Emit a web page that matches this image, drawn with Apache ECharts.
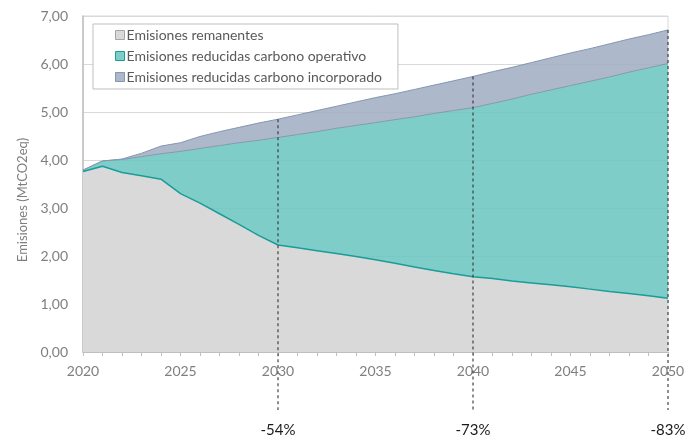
<!DOCTYPE html>
<html>
<head>
<meta charset="utf-8">
<script src="https://cdn.jsdelivr.net/npm/echarts@6/dist/echarts.min.js"></script>
<style>
  html, body { margin: 0; padding: 0; background: #fff; }
  #chart { width: 692px; height: 437px; }
</style>
</head>
<body>
<div id="chart"></div>
<script>
// años del eje X
const years = [
  '2020', '2021', '2022', '2023', '2024', '2025', '2026', '2027', '2028', '2029', '2030',
  '2031', '2032', '2033', '2034', '2035', '2036', '2037', '2038', '2039', '2040',
  '2041', '2042', '2043', '2044', '2045', '2046', '2047', '2048', '2049', '2050'
]

// emisiones remanentes (borde inferior)
const remanentes = [
  3.76, 3.87, 3.74, 3.67, 3.60, 3.30, 3.10, 2.88, 2.66, 2.43, 2.23,
  2.17, 2.11, 2.05, 1.99, 1.92, 1.85, 1.77, 1.70, 1.63, 1.57,
  1.53, 1.48, 1.44, 1.40, 1.36, 1.31, 1.26, 1.22, 1.17, 1.12
]

// remanentes + reducidas carbono operativo (borde intermedio)
const conOperativo = [
  3.79, 3.98, 4.01, 4.07, 4.13, 4.18, 4.24, 4.30, 4.36, 4.41, 4.47,
  4.53, 4.59, 4.66, 4.72, 4.78, 4.84, 4.90, 4.97, 5.03, 5.09,
  5.18, 5.27, 5.37, 5.46, 5.55, 5.64, 5.73, 5.83, 5.92, 6.01
]

// total (borde superior)
const total = [
  3.79, 3.98, 4.02, 4.14, 4.29, 4.36, 4.49, 4.59, 4.68, 4.77, 4.85,
  4.94, 5.03, 5.12, 5.21, 5.30, 5.38, 5.47, 5.56, 5.65, 5.74,
  5.84, 5.93, 6.03, 6.13, 6.23, 6.32, 6.42, 6.52, 6.61, 6.71
]

const yTicks = [0, 1, 2, 3, 4, 5, 6, 7]

// marcas de reducción
const markYears = ['2030', '2040', '2050']
const markLabels = ['-54%', '-73%', '-83%']

const names = [
  'Emisiones remanentes',
  'Emisiones reducidas carbono operativo',
  'Emisiones reducidas carbono incorporado'
]

const operativo = conOperativo.map((v, i) => +(v - remanentes[i]).toFixed(3))
const incorporado = total.map((v, i) => +(v - conOperativo[i]).toFixed(3))

const FONT = 'Lato, "Open Sans", sans-serif'

let myChart = echarts.init(document.getElementById('chart'))

let options = {
  animation: false,
  textStyle: { fontFamily: FONT },
  grid: {
    left: 83,
    right: 24,
    top: 16,
    bottom: 85,
    show: true,
    borderColor: '#d9d9d9',
    borderWidth: 1,
    backgroundColor: 'transparent'
  },
  legend: {
    orient: 'vertical',
    left: 93,
    top: 24,
    padding: [4, 16, 5, 22],
    itemGap: 7,
    itemWidth: 9,
    itemHeight: 9,
    icon: 'rect',
    backgroundColor: '#fff',
    borderColor: '#bfbfbf',
    borderWidth: 1,
    textStyle: { fontFamily: FONT, fontSize: 14, color: '#595959', padding: [0, 0, 0, -3] },
    data: [
      { name: names[0], itemStyle: { color: '#d9d9d9', borderColor: '#a6a6a6', borderWidth: 1 } },
      { name: names[1], itemStyle: { color: '#7fcdc9', borderColor: '#1a9c98', borderWidth: 1 } },
      { name: names[2], itemStyle: { color: '#adb9ca', borderColor: '#8497b0', borderWidth: 1 } }
    ]
  },
  xAxis: {
    type: 'category',
    data: years,
    boundaryGap: false,
    axisLine: { show: true, lineStyle: { color: '#bfbfbf', width: 1 } },
    axisTick: { show: true, interval: 0, length: 4, lineStyle: { color: '#bfbfbf' } },
    axisLabel: {
      interval: 4,
      margin: 12,
      color: '#7f7f7f',
      fontSize: 14,
      fontFamily: FONT
    },
    splitLine: { show: false }
  },
  yAxis: {
    type: 'value',
    min: yTicks[0],
    max: yTicks[yTicks.length - 1],
    interval: 1,
    name: 'Emisiones (MtCO2eq)',
    nameLocation: 'middle',
    nameGap: 54,
    nameTextStyle: { color: '#7f7f7f', fontSize: 13, fontFamily: FONT, padding: [0, 32, 0, 0] },
    axisLine: { show: true, lineStyle: { color: '#bfbfbf', width: 1.5 } },
    axisTick: { show: false },
    axisLabel: {
      margin: 15,
      color: '#7f7f7f',
      fontSize: 14,
      fontFamily: FONT,
      formatter: (v) => v.toFixed(2).replace('.', ',')
    },
    splitLine: { show: true, lineStyle: { color: '#d9d9d9', width: 1 } }
  },
  series: [
    {
      name: names[0],
      type: 'line',
      stack: 'emisiones',
      data: remanentes,
      symbol: 'none',
      lineStyle: { color: '#1a9c98', width: 1.5 },
      areaStyle: { color: '#d9d9d9', opacity: 1 },
      z: 4
    },
    {
      name: names[1],
      type: 'line',
      stack: 'emisiones',
      data: operativo,
      symbol: 'none',
      lineStyle: { color: '#8497b0', width: 1 },
      areaStyle: { color: '#68c4bf', opacity: 0.85 },
      z: 3
    },
    {
      name: names[2],
      type: 'line',
      stack: 'emisiones',
      data: incorporado,
      symbol: 'none',
      lineStyle: { color: '#8497b0', width: 1 },
      areaStyle: { color: '#9facc1', opacity: 0.85 },
      z: 2
    }
  ]
}

myChart.setOption(options)

// líneas discontinuas y porcentajes, posicionados con las escalas del gráfico
let graphics = []
markYears.forEach((yr, k) => {
  let idx = years.indexOf(yr)
  let top = myChart.convertToPixel({ gridIndex: 0 }, [idx, total[idx]])
  let base = myChart.convertToPixel({ gridIndex: 0 }, [idx, 0])
  graphics.push({
    type: 'line',
    z: 100,
    shape: { x1: top[0], y1: top[1], x2: top[0], y2: base[1] + 58 },
    style: { stroke: '#333', lineWidth: 1.1, lineDash: [3, 3] }
  })
  graphics.push({
    type: 'text',
    z: 100,
    x: top[0],
    y: base[1] + 78,
    style: {
      text: markLabels[k],
      fill: '#1a1a1a',
      font: '15px ' + FONT,
      align: 'center',
      verticalAlign: 'middle'
    }
  })
})
myChart.setOption({ graphic: graphics })
</script>
</body>
</html>
